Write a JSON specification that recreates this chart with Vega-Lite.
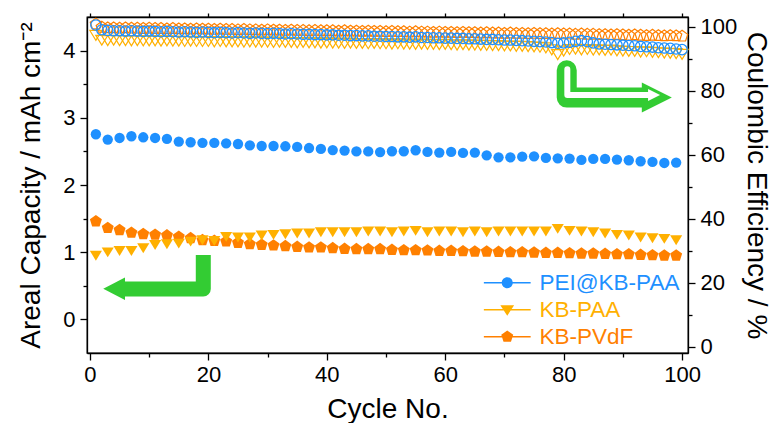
{
"$schema": "https://vega.github.io/schema/vega-lite/v6.json",
"width": 601, "height": 336,
"autosize": {"type": "none"},
"padding": {"left": 87, "top": 17, "right": 89, "bottom": 70},
"background": "white",
"config": {
  "font": "Liberation Sans",
  "view": {"stroke": "black", "strokeWidth": 1.3},
  "axis": {"domainColor": "black", "domainWidth": 1.3, "tickColor": "black", "tickWidth": 1.3, "labelColor": "black", "titleColor": "black", "labelFont": "Liberation Sans", "titleFont": "Liberation Sans", "labelFontSize": 22, "titleFontSize": 28, "titleFontWeight": "normal", "grid": false, "labelOverlap": false, "labelFlush": false, "labelBound": false}
},
"datasets": {
"cap": [
{"series":"PEI@KB-PAA","cycle":1,"cap":2.755},{"series":"PEI@KB-PAA","cycle":3,"cap":2.676},{"series":"PEI@KB-PAA","cycle":5,"cap":2.70},{"series":"PEI@KB-PAA","cycle":7,"cap":2.725},{"series":"PEI@KB-PAA","cycle":9,"cap":2.71},{"series":"PEI@KB-PAA","cycle":11,"cap":2.70},{"series":"PEI@KB-PAA","cycle":13,"cap":2.687},{"series":"PEI@KB-PAA","cycle":15,"cap":2.646},{"series":"PEI@KB-PAA","cycle":17,"cap":2.636},{"series":"PEI@KB-PAA","cycle":19,"cap":2.627},
{"series":"PEI@KB-PAA","cycle":21,"cap":2.627},{"series":"PEI@KB-PAA","cycle":23,"cap":2.62},{"series":"PEI@KB-PAA","cycle":25,"cap":2.61},{"series":"PEI@KB-PAA","cycle":27,"cap":2.59},{"series":"PEI@KB-PAA","cycle":29,"cap":2.58},{"series":"PEI@KB-PAA","cycle":31,"cap":2.58},{"series":"PEI@KB-PAA","cycle":33,"cap":2.576},{"series":"PEI@KB-PAA","cycle":35,"cap":2.567},{"series":"PEI@KB-PAA","cycle":37,"cap":2.55},{"series":"PEI@KB-PAA","cycle":39,"cap":2.537},
{"series":"PEI@KB-PAA","cycle":41,"cap":2.52},{"series":"PEI@KB-PAA","cycle":43,"cap":2.512},{"series":"PEI@KB-PAA","cycle":45,"cap":2.50},{"series":"PEI@KB-PAA","cycle":47,"cap":2.50},{"series":"PEI@KB-PAA","cycle":49,"cap":2.49},{"series":"PEI@KB-PAA","cycle":51,"cap":2.502},{"series":"PEI@KB-PAA","cycle":53,"cap":2.502},{"series":"PEI@KB-PAA","cycle":55,"cap":2.517},{"series":"PEI@KB-PAA","cycle":57,"cap":2.492},{"series":"PEI@KB-PAA","cycle":59,"cap":2.482},
{"series":"PEI@KB-PAA","cycle":61,"cap":2.492},{"series":"PEI@KB-PAA","cycle":63,"cap":2.477},{"series":"PEI@KB-PAA","cycle":65,"cap":2.482},{"series":"PEI@KB-PAA","cycle":67,"cap":2.442},{"series":"PEI@KB-PAA","cycle":69,"cap":2.412},{"series":"PEI@KB-PAA","cycle":71,"cap":2.412},{"series":"PEI@KB-PAA","cycle":73,"cap":2.422},{"series":"PEI@KB-PAA","cycle":75,"cap":2.427},{"series":"PEI@KB-PAA","cycle":77,"cap":2.403},{"series":"PEI@KB-PAA","cycle":79,"cap":2.397},
{"series":"PEI@KB-PAA","cycle":81,"cap":2.393},{"series":"PEI@KB-PAA","cycle":83,"cap":2.373},{"series":"PEI@KB-PAA","cycle":85,"cap":2.388},{"series":"PEI@KB-PAA","cycle":87,"cap":2.388},{"series":"PEI@KB-PAA","cycle":89,"cap":2.378},{"series":"PEI@KB-PAA","cycle":91,"cap":2.368},{"series":"PEI@KB-PAA","cycle":93,"cap":2.353},{"series":"PEI@KB-PAA","cycle":95,"cap":2.343},{"series":"PEI@KB-PAA","cycle":97,"cap":2.328},{"series":"PEI@KB-PAA","cycle":99,"cap":2.333},
{"series":"KB-PAA","cycle":1,"cap":0.96},{"series":"KB-PAA","cycle":3,"cap":1.01},{"series":"KB-PAA","cycle":5,"cap":1.03},{"series":"KB-PAA","cycle":7,"cap":1.03},{"series":"KB-PAA","cycle":9,"cap":1.07},{"series":"KB-PAA","cycle":11,"cap":1.12},{"series":"KB-PAA","cycle":13,"cap":1.13},{"series":"KB-PAA","cycle":15,"cap":1.14},{"series":"KB-PAA","cycle":17,"cap":1.17},{"series":"KB-PAA","cycle":19,"cap":1.19},
{"series":"KB-PAA","cycle":21,"cap":1.18},{"series":"KB-PAA","cycle":23,"cap":1.24},{"series":"KB-PAA","cycle":25,"cap":1.23},{"series":"KB-PAA","cycle":27,"cap":1.23},{"series":"KB-PAA","cycle":29,"cap":1.26},{"series":"KB-PAA","cycle":31,"cap":1.27},{"series":"KB-PAA","cycle":33,"cap":1.28},{"series":"KB-PAA","cycle":35,"cap":1.29},{"series":"KB-PAA","cycle":37,"cap":1.29},{"series":"KB-PAA","cycle":39,"cap":1.31},
{"series":"KB-PAA","cycle":41,"cap":1.31},{"series":"KB-PAA","cycle":43,"cap":1.31},{"series":"KB-PAA","cycle":45,"cap":1.31},{"series":"KB-PAA","cycle":47,"cap":1.32},{"series":"KB-PAA","cycle":49,"cap":1.32},{"series":"KB-PAA","cycle":51,"cap":1.31},{"series":"KB-PAA","cycle":53,"cap":1.32},{"series":"KB-PAA","cycle":55,"cap":1.33},{"series":"KB-PAA","cycle":57,"cap":1.31},{"series":"KB-PAA","cycle":59,"cap":1.32},
{"series":"KB-PAA","cycle":61,"cap":1.32},{"series":"KB-PAA","cycle":63,"cap":1.31},{"series":"KB-PAA","cycle":65,"cap":1.32},{"series":"KB-PAA","cycle":67,"cap":1.31},{"series":"KB-PAA","cycle":69,"cap":1.32},{"series":"KB-PAA","cycle":71,"cap":1.32},{"series":"KB-PAA","cycle":73,"cap":1.32},{"series":"KB-PAA","cycle":75,"cap":1.32},{"series":"KB-PAA","cycle":77,"cap":1.32},{"series":"KB-PAA","cycle":79,"cap":1.36},
{"series":"KB-PAA","cycle":81,"cap":1.33},{"series":"KB-PAA","cycle":83,"cap":1.32},{"series":"KB-PAA","cycle":85,"cap":1.31},{"series":"KB-PAA","cycle":87,"cap":1.29},{"series":"KB-PAA","cycle":89,"cap":1.27},{"series":"KB-PAA","cycle":91,"cap":1.26},{"series":"KB-PAA","cycle":93,"cap":1.23},{"series":"KB-PAA","cycle":95,"cap":1.22},{"series":"KB-PAA","cycle":97,"cap":1.21},{"series":"KB-PAA","cycle":99,"cap":1.19},
{"series":"KB-PVdF","cycle":1,"cap":1.46},{"series":"KB-PVdF","cycle":3,"cap":1.36},{"series":"KB-PVdF","cycle":5,"cap":1.33},{"series":"KB-PVdF","cycle":7,"cap":1.29},{"series":"KB-PVdF","cycle":9,"cap":1.27},{"series":"KB-PVdF","cycle":11,"cap":1.26},{"series":"KB-PVdF","cycle":13,"cap":1.25},{"series":"KB-PVdF","cycle":15,"cap":1.23},{"series":"KB-PVdF","cycle":17,"cap":1.21},{"series":"KB-PVdF","cycle":19,"cap":1.18},
{"series":"KB-PVdF","cycle":21,"cap":1.17},{"series":"KB-PVdF","cycle":23,"cap":1.16},{"series":"KB-PVdF","cycle":25,"cap":1.14},{"series":"KB-PVdF","cycle":27,"cap":1.12},{"series":"KB-PVdF","cycle":29,"cap":1.11},{"series":"KB-PVdF","cycle":31,"cap":1.10},{"series":"KB-PVdF","cycle":33,"cap":1.09},{"series":"KB-PVdF","cycle":35,"cap":1.08},{"series":"KB-PVdF","cycle":37,"cap":1.07},{"series":"KB-PVdF","cycle":39,"cap":1.07},
{"series":"KB-PVdF","cycle":41,"cap":1.06},{"series":"KB-PVdF","cycle":43,"cap":1.05},{"series":"KB-PVdF","cycle":45,"cap":1.045},{"series":"KB-PVdF","cycle":47,"cap":1.045},{"series":"KB-PVdF","cycle":49,"cap":1.045},{"series":"KB-PVdF","cycle":51,"cap":1.035},{"series":"KB-PVdF","cycle":53,"cap":1.03},{"series":"KB-PVdF","cycle":55,"cap":1.03},{"series":"KB-PVdF","cycle":57,"cap":1.025},{"series":"KB-PVdF","cycle":59,"cap":1.02},
{"series":"KB-PVdF","cycle":61,"cap":1.02},{"series":"KB-PVdF","cycle":63,"cap":1.015},{"series":"KB-PVdF","cycle":65,"cap":1.01},{"series":"KB-PVdF","cycle":67,"cap":1.01},{"series":"KB-PVdF","cycle":69,"cap":1.005},{"series":"KB-PVdF","cycle":71,"cap":1.0},{"series":"KB-PVdF","cycle":73,"cap":1.0},{"series":"KB-PVdF","cycle":75,"cap":0.995},{"series":"KB-PVdF","cycle":77,"cap":0.99},{"series":"KB-PVdF","cycle":79,"cap":0.99},
{"series":"KB-PVdF","cycle":81,"cap":0.985},{"series":"KB-PVdF","cycle":83,"cap":0.98},{"series":"KB-PVdF","cycle":85,"cap":0.98},{"series":"KB-PVdF","cycle":87,"cap":0.975},{"series":"KB-PVdF","cycle":89,"cap":0.97},{"series":"KB-PVdF","cycle":91,"cap":0.97},{"series":"KB-PVdF","cycle":93,"cap":0.96},{"series":"KB-PVdF","cycle":95,"cap":0.955},{"series":"KB-PVdF","cycle":97,"cap":0.95},{"series":"KB-PVdF","cycle":99,"cap":0.95}
],
"ce": [
{"series":"PEI@KB-PAA","cycle":1,"ce":100.5},{"series":"PEI@KB-PAA","cycle":2,"ce":99.0},{"series":"PEI@KB-PAA","cycle":3,"ce":98.8},{"series":"PEI@KB-PAA","cycle":4,"ce":98.7},{"series":"PEI@KB-PAA","cycle":5,"ce":98.7},{"series":"PEI@KB-PAA","cycle":6,"ce":98.6},{"series":"PEI@KB-PAA","cycle":7,"ce":98.7},{"series":"PEI@KB-PAA","cycle":8,"ce":98.6},{"series":"PEI@KB-PAA","cycle":9,"ce":98.5},{"series":"PEI@KB-PAA","cycle":10,"ce":98.6},
{"series":"PEI@KB-PAA","cycle":11,"ce":98.5},{"series":"PEI@KB-PAA","cycle":12,"ce":98.4},{"series":"PEI@KB-PAA","cycle":13,"ce":98.5},{"series":"PEI@KB-PAA","cycle":14,"ce":98.4},{"series":"PEI@KB-PAA","cycle":15,"ce":98.3},{"series":"PEI@KB-PAA","cycle":16,"ce":98.4},{"series":"PEI@KB-PAA","cycle":17,"ce":98.3},{"series":"PEI@KB-PAA","cycle":18,"ce":98.2},{"series":"PEI@KB-PAA","cycle":19,"ce":98.3},{"series":"PEI@KB-PAA","cycle":20,"ce":98.2},
{"series":"PEI@KB-PAA","cycle":21,"ce":98.1},{"series":"PEI@KB-PAA","cycle":22,"ce":98.2},{"series":"PEI@KB-PAA","cycle":23,"ce":98.1},{"series":"PEI@KB-PAA","cycle":24,"ce":98.0},{"series":"PEI@KB-PAA","cycle":25,"ce":98.1},{"series":"PEI@KB-PAA","cycle":26,"ce":98.0},{"series":"PEI@KB-PAA","cycle":27,"ce":97.9},{"series":"PEI@KB-PAA","cycle":28,"ce":98.0},{"series":"PEI@KB-PAA","cycle":29,"ce":97.9},{"series":"PEI@KB-PAA","cycle":30,"ce":97.8},
{"series":"PEI@KB-PAA","cycle":31,"ce":97.9},{"series":"PEI@KB-PAA","cycle":32,"ce":97.8},{"series":"PEI@KB-PAA","cycle":33,"ce":97.7},{"series":"PEI@KB-PAA","cycle":34,"ce":97.8},{"series":"PEI@KB-PAA","cycle":35,"ce":97.7},{"series":"PEI@KB-PAA","cycle":36,"ce":97.6},{"series":"PEI@KB-PAA","cycle":37,"ce":97.6},{"series":"PEI@KB-PAA","cycle":38,"ce":97.5},{"series":"PEI@KB-PAA","cycle":39,"ce":97.5},{"series":"PEI@KB-PAA","cycle":40,"ce":97.4},
{"series":"PEI@KB-PAA","cycle":41,"ce":97.4},{"series":"PEI@KB-PAA","cycle":42,"ce":97.3},{"series":"PEI@KB-PAA","cycle":43,"ce":97.3},{"series":"PEI@KB-PAA","cycle":44,"ce":97.2},{"series":"PEI@KB-PAA","cycle":45,"ce":97.2},{"series":"PEI@KB-PAA","cycle":46,"ce":97.1},{"series":"PEI@KB-PAA","cycle":47,"ce":97.1},{"series":"PEI@KB-PAA","cycle":48,"ce":97.0},{"series":"PEI@KB-PAA","cycle":49,"ce":97.0},{"series":"PEI@KB-PAA","cycle":50,"ce":96.9},
{"series":"PEI@KB-PAA","cycle":51,"ce":96.9},{"series":"PEI@KB-PAA","cycle":52,"ce":96.8},{"series":"PEI@KB-PAA","cycle":53,"ce":96.8},{"series":"PEI@KB-PAA","cycle":54,"ce":96.7},{"series":"PEI@KB-PAA","cycle":55,"ce":96.8},{"series":"PEI@KB-PAA","cycle":56,"ce":96.6},{"series":"PEI@KB-PAA","cycle":57,"ce":96.6},{"series":"PEI@KB-PAA","cycle":58,"ce":96.5},{"series":"PEI@KB-PAA","cycle":59,"ce":96.5},{"series":"PEI@KB-PAA","cycle":60,"ce":96.4},
{"series":"PEI@KB-PAA","cycle":61,"ce":96.4},{"series":"PEI@KB-PAA","cycle":62,"ce":96.3},{"series":"PEI@KB-PAA","cycle":63,"ce":96.3},{"series":"PEI@KB-PAA","cycle":64,"ce":96.2},{"series":"PEI@KB-PAA","cycle":65,"ce":96.2},{"series":"PEI@KB-PAA","cycle":66,"ce":96.1},{"series":"PEI@KB-PAA","cycle":67,"ce":96.0},{"series":"PEI@KB-PAA","cycle":68,"ce":96.0},{"series":"PEI@KB-PAA","cycle":69,"ce":95.9},{"series":"PEI@KB-PAA","cycle":70,"ce":95.8},
{"series":"PEI@KB-PAA","cycle":71,"ce":95.8},{"series":"PEI@KB-PAA","cycle":72,"ce":95.7},{"series":"PEI@KB-PAA","cycle":73,"ce":95.6},{"series":"PEI@KB-PAA","cycle":74,"ce":95.5},{"series":"PEI@KB-PAA","cycle":75,"ce":95.4},{"series":"PEI@KB-PAA","cycle":76,"ce":95.3},{"series":"PEI@KB-PAA","cycle":77,"ce":95.2},{"series":"PEI@KB-PAA","cycle":78,"ce":95.0},{"series":"PEI@KB-PAA","cycle":79,"ce":94.8},{"series":"PEI@KB-PAA","cycle":80,"ce":94.9},
{"series":"PEI@KB-PAA","cycle":81,"ce":95.1},{"series":"PEI@KB-PAA","cycle":82,"ce":95.4},{"series":"PEI@KB-PAA","cycle":83,"ce":95.6},{"series":"PEI@KB-PAA","cycle":84,"ce":95.3},{"series":"PEI@KB-PAA","cycle":85,"ce":94.9},{"series":"PEI@KB-PAA","cycle":86,"ce":94.6},{"series":"PEI@KB-PAA","cycle":87,"ce":94.5},{"series":"PEI@KB-PAA","cycle":88,"ce":94.4},{"series":"PEI@KB-PAA","cycle":89,"ce":94.3},{"series":"PEI@KB-PAA","cycle":90,"ce":94.2},
{"series":"PEI@KB-PAA","cycle":91,"ce":94.1},{"series":"PEI@KB-PAA","cycle":92,"ce":94.0},{"series":"PEI@KB-PAA","cycle":93,"ce":93.8},{"series":"PEI@KB-PAA","cycle":94,"ce":93.7},{"series":"PEI@KB-PAA","cycle":95,"ce":93.6},{"series":"PEI@KB-PAA","cycle":96,"ce":93.4},{"series":"PEI@KB-PAA","cycle":97,"ce":93.3},{"series":"PEI@KB-PAA","cycle":98,"ce":93.2},{"series":"PEI@KB-PAA","cycle":99,"ce":93.0},{"series":"PEI@KB-PAA","cycle":100,"ce":92.8},
{"series":"KB-PAA","cycle":1,"ce":97.5},{"series":"KB-PAA","cycle":2,"ce":96.0},{"series":"KB-PAA","cycle":3,"ce":95.9},{"series":"KB-PAA","cycle":4,"ce":96.0},{"series":"KB-PAA","cycle":5,"ce":95.9},{"series":"KB-PAA","cycle":6,"ce":95.9},{"series":"KB-PAA","cycle":7,"ce":95.8},{"series":"KB-PAA","cycle":8,"ce":95.9},{"series":"KB-PAA","cycle":9,"ce":95.8},{"series":"KB-PAA","cycle":10,"ce":95.8},
{"series":"KB-PAA","cycle":11,"ce":95.8},{"series":"KB-PAA","cycle":12,"ce":95.7},{"series":"KB-PAA","cycle":13,"ce":95.8},{"series":"KB-PAA","cycle":14,"ce":95.7},{"series":"KB-PAA","cycle":15,"ce":95.7},{"series":"KB-PAA","cycle":16,"ce":95.6},{"series":"KB-PAA","cycle":17,"ce":95.7},{"series":"KB-PAA","cycle":18,"ce":95.6},{"series":"KB-PAA","cycle":19,"ce":95.6},{"series":"KB-PAA","cycle":20,"ce":95.6},
{"series":"KB-PAA","cycle":21,"ce":95.5},{"series":"KB-PAA","cycle":22,"ce":95.6},{"series":"KB-PAA","cycle":23,"ce":95.5},{"series":"KB-PAA","cycle":24,"ce":95.5},{"series":"KB-PAA","cycle":25,"ce":95.5},{"series":"KB-PAA","cycle":26,"ce":95.4},{"series":"KB-PAA","cycle":27,"ce":95.5},{"series":"KB-PAA","cycle":28,"ce":95.4},{"series":"KB-PAA","cycle":29,"ce":95.4},{"series":"KB-PAA","cycle":30,"ce":95.4},
{"series":"KB-PAA","cycle":31,"ce":95.3},{"series":"KB-PAA","cycle":32,"ce":95.4},{"series":"KB-PAA","cycle":33,"ce":95.3},{"series":"KB-PAA","cycle":34,"ce":95.3},{"series":"KB-PAA","cycle":35,"ce":95.2},{"series":"KB-PAA","cycle":36,"ce":95.3},{"series":"KB-PAA","cycle":37,"ce":95.2},{"series":"KB-PAA","cycle":38,"ce":95.2},{"series":"KB-PAA","cycle":39,"ce":95.1},{"series":"KB-PAA","cycle":40,"ce":95.2},
{"series":"KB-PAA","cycle":41,"ce":95.1},{"series":"KB-PAA","cycle":42,"ce":95.1},{"series":"KB-PAA","cycle":43,"ce":95.0},{"series":"KB-PAA","cycle":44,"ce":95.1},{"series":"KB-PAA","cycle":45,"ce":95.0},{"series":"KB-PAA","cycle":46,"ce":95.0},{"series":"KB-PAA","cycle":47,"ce":94.9},{"series":"KB-PAA","cycle":48,"ce":95.0},{"series":"KB-PAA","cycle":49,"ce":94.9},{"series":"KB-PAA","cycle":50,"ce":94.9},
{"series":"KB-PAA","cycle":51,"ce":94.8},{"series":"KB-PAA","cycle":52,"ce":94.9},{"series":"KB-PAA","cycle":53,"ce":94.8},{"series":"KB-PAA","cycle":54,"ce":94.8},{"series":"KB-PAA","cycle":55,"ce":94.7},{"series":"KB-PAA","cycle":56,"ce":94.8},{"series":"KB-PAA","cycle":57,"ce":94.7},{"series":"KB-PAA","cycle":58,"ce":94.7},{"series":"KB-PAA","cycle":59,"ce":94.6},{"series":"KB-PAA","cycle":60,"ce":94.7},
{"series":"KB-PAA","cycle":61,"ce":94.6},{"series":"KB-PAA","cycle":62,"ce":94.5},{"series":"KB-PAA","cycle":63,"ce":94.6},{"series":"KB-PAA","cycle":64,"ce":94.5},{"series":"KB-PAA","cycle":65,"ce":94.5},{"series":"KB-PAA","cycle":66,"ce":94.4},{"series":"KB-PAA","cycle":67,"ce":94.4},{"series":"KB-PAA","cycle":68,"ce":94.3},{"series":"KB-PAA","cycle":69,"ce":94.3},{"series":"KB-PAA","cycle":70,"ce":94.2},
{"series":"KB-PAA","cycle":71,"ce":94.2},{"series":"KB-PAA","cycle":72,"ce":94.1},{"series":"KB-PAA","cycle":73,"ce":94.1},{"series":"KB-PAA","cycle":74,"ce":94.0},{"series":"KB-PAA","cycle":75,"ce":93.9},{"series":"KB-PAA","cycle":76,"ce":93.8},{"series":"KB-PAA","cycle":77,"ce":93.6},{"series":"KB-PAA","cycle":78,"ce":93.0},{"series":"KB-PAA","cycle":79,"ce":91.5},{"series":"KB-PAA","cycle":80,"ce":92.6},
{"series":"KB-PAA","cycle":81,"ce":93.1},{"series":"KB-PAA","cycle":82,"ce":93.2},{"series":"KB-PAA","cycle":83,"ce":93.0},{"series":"KB-PAA","cycle":84,"ce":93.1},{"series":"KB-PAA","cycle":85,"ce":92.9},{"series":"KB-PAA","cycle":86,"ce":93.0},{"series":"KB-PAA","cycle":87,"ce":92.8},{"series":"KB-PAA","cycle":88,"ce":92.9},{"series":"KB-PAA","cycle":89,"ce":92.7},{"series":"KB-PAA","cycle":90,"ce":92.6},
{"series":"KB-PAA","cycle":91,"ce":92.5},{"series":"KB-PAA","cycle":92,"ce":92.5},{"series":"KB-PAA","cycle":93,"ce":92.3},{"series":"KB-PAA","cycle":94,"ce":92.4},{"series":"KB-PAA","cycle":95,"ce":92.2},{"series":"KB-PAA","cycle":96,"ce":92.1},{"series":"KB-PAA","cycle":97,"ce":92.0},{"series":"KB-PAA","cycle":98,"ce":91.9},{"series":"KB-PAA","cycle":99,"ce":91.8},{"series":"KB-PAA","cycle":100,"ce":91.6},
{"series":"KB-PVdF","cycle":1,"ce":100.8},{"series":"KB-PVdF","cycle":2,"ce":99.8},{"series":"KB-PVdF","cycle":3,"ce":99.6},{"series":"KB-PVdF","cycle":4,"ce":99.6},{"series":"KB-PVdF","cycle":5,"ce":99.5},{"series":"KB-PVdF","cycle":6,"ce":99.6},{"series":"KB-PVdF","cycle":7,"ce":99.5},{"series":"KB-PVdF","cycle":8,"ce":99.5},{"series":"KB-PVdF","cycle":9,"ce":99.4},{"series":"KB-PVdF","cycle":10,"ce":99.5},
{"series":"KB-PVdF","cycle":11,"ce":99.4},{"series":"KB-PVdF","cycle":12,"ce":99.4},{"series":"KB-PVdF","cycle":13,"ce":99.3},{"series":"KB-PVdF","cycle":14,"ce":99.4},{"series":"KB-PVdF","cycle":15,"ce":99.3},{"series":"KB-PVdF","cycle":16,"ce":99.3},{"series":"KB-PVdF","cycle":17,"ce":99.2},{"series":"KB-PVdF","cycle":18,"ce":99.3},{"series":"KB-PVdF","cycle":19,"ce":99.2},{"series":"KB-PVdF","cycle":20,"ce":99.2},
{"series":"KB-PVdF","cycle":21,"ce":99.1},{"series":"KB-PVdF","cycle":22,"ce":99.2},{"series":"KB-PVdF","cycle":23,"ce":99.1},{"series":"KB-PVdF","cycle":24,"ce":99.1},{"series":"KB-PVdF","cycle":25,"ce":99.0},{"series":"KB-PVdF","cycle":26,"ce":99.1},{"series":"KB-PVdF","cycle":27,"ce":99.0},{"series":"KB-PVdF","cycle":28,"ce":99.0},{"series":"KB-PVdF","cycle":29,"ce":98.9},{"series":"KB-PVdF","cycle":30,"ce":99.0},
{"series":"KB-PVdF","cycle":31,"ce":98.9},{"series":"KB-PVdF","cycle":32,"ce":98.9},{"series":"KB-PVdF","cycle":33,"ce":98.8},{"series":"KB-PVdF","cycle":34,"ce":98.9},{"series":"KB-PVdF","cycle":35,"ce":98.8},{"series":"KB-PVdF","cycle":36,"ce":98.8},{"series":"KB-PVdF","cycle":37,"ce":98.7},{"series":"KB-PVdF","cycle":38,"ce":98.8},{"series":"KB-PVdF","cycle":39,"ce":98.7},{"series":"KB-PVdF","cycle":40,"ce":98.7},
{"series":"KB-PVdF","cycle":41,"ce":98.7},{"series":"KB-PVdF","cycle":42,"ce":98.6},{"series":"KB-PVdF","cycle":43,"ce":98.7},{"series":"KB-PVdF","cycle":44,"ce":98.6},{"series":"KB-PVdF","cycle":45,"ce":98.6},{"series":"KB-PVdF","cycle":46,"ce":98.5},{"series":"KB-PVdF","cycle":47,"ce":98.6},{"series":"KB-PVdF","cycle":48,"ce":98.5},{"series":"KB-PVdF","cycle":49,"ce":98.5},{"series":"KB-PVdF","cycle":50,"ce":98.4},
{"series":"KB-PVdF","cycle":51,"ce":98.5},{"series":"KB-PVdF","cycle":52,"ce":98.4},{"series":"KB-PVdF","cycle":53,"ce":98.4},{"series":"KB-PVdF","cycle":54,"ce":98.3},{"series":"KB-PVdF","cycle":55,"ce":98.4},{"series":"KB-PVdF","cycle":56,"ce":98.3},{"series":"KB-PVdF","cycle":57,"ce":98.3},{"series":"KB-PVdF","cycle":58,"ce":98.2},{"series":"KB-PVdF","cycle":59,"ce":98.3},{"series":"KB-PVdF","cycle":60,"ce":98.2},
{"series":"KB-PVdF","cycle":61,"ce":98.2},{"series":"KB-PVdF","cycle":62,"ce":98.1},{"series":"KB-PVdF","cycle":63,"ce":98.2},{"series":"KB-PVdF","cycle":64,"ce":98.1},{"series":"KB-PVdF","cycle":65,"ce":98.1},{"series":"KB-PVdF","cycle":66,"ce":98.0},{"series":"KB-PVdF","cycle":67,"ce":98.1},{"series":"KB-PVdF","cycle":68,"ce":98.0},{"series":"KB-PVdF","cycle":69,"ce":98.0},{"series":"KB-PVdF","cycle":70,"ce":97.9},
{"series":"KB-PVdF","cycle":71,"ce":98.0},{"series":"KB-PVdF","cycle":72,"ce":97.9},{"series":"KB-PVdF","cycle":73,"ce":97.9},{"series":"KB-PVdF","cycle":74,"ce":97.8},{"series":"KB-PVdF","cycle":75,"ce":97.9},{"series":"KB-PVdF","cycle":76,"ce":97.8},{"series":"KB-PVdF","cycle":77,"ce":97.8},{"series":"KB-PVdF","cycle":78,"ce":97.7},{"series":"KB-PVdF","cycle":79,"ce":97.8},{"series":"KB-PVdF","cycle":80,"ce":97.7},
{"series":"KB-PVdF","cycle":81,"ce":97.7},{"series":"KB-PVdF","cycle":82,"ce":97.6},{"series":"KB-PVdF","cycle":83,"ce":97.7},{"series":"KB-PVdF","cycle":84,"ce":97.6},{"series":"KB-PVdF","cycle":85,"ce":97.6},{"series":"KB-PVdF","cycle":86,"ce":97.5},{"series":"KB-PVdF","cycle":87,"ce":97.5},{"series":"KB-PVdF","cycle":88,"ce":97.4},{"series":"KB-PVdF","cycle":89,"ce":97.5},{"series":"KB-PVdF","cycle":90,"ce":97.4},
{"series":"KB-PVdF","cycle":91,"ce":97.3},{"series":"KB-PVdF","cycle":92,"ce":97.4},{"series":"KB-PVdF","cycle":93,"ce":97.3},{"series":"KB-PVdF","cycle":94,"ce":97.2},{"series":"KB-PVdF","cycle":95,"ce":97.3},{"series":"KB-PVdF","cycle":96,"ce":97.2},{"series":"KB-PVdF","cycle":97,"ce":97.1},{"series":"KB-PVdF","cycle":98,"ce":97.2},{"series":"KB-PVdF","cycle":99,"ce":97.1},{"series":"KB-PVdF","cycle":100,"ce":97.0}
],
"arrowL": [{"i":1,"cycle":19.14,"cap":0.96},{"i":2,"cycle":19.14,"cap":0.452},{"i":3,"cycle":5.5,"cap":0.452}],
"headL": [{"cycle":4.08,"cap":0.457}],
"arrowR": [{"i":1,"cycle":80.52,"ce":86.34},{"i":2,"cycle":80.52,"ce":77.81},{"i":3,"cycle":93.75,"ce":77.81}],
"headR": [{"cycle":95.73,"ce":77.81}],
"arrowRi": [{"i":1,"cycle":80.62,"ce":86.66},{"i":2,"cycle":80.62,"ce":78.63},{"i":3,"cycle":94.3,"ce":78.63}],
"headRi": [{"cycle":95.27,"ce":78.63}]
},
"layer": [
{
  "encoding": {
    "x": {"field": "cycle", "type": "quantitative", "scale": {"domain": [-0.5, 101], "nice": false, "zero": false},
      "axis": {"orient": "bottom", "values": [0,10,20,30,40,50,60,70,80,90,100], "labelExpr": "datum.value % 20 === 0 ? datum.label : ''", "tickSize": {"condition": {"test": "datum.value % 20 === 0", "value": 7}, "value": 4}, "labelPadding": 4, "title": "Cycle No.", "titlePadding": 10}},
    "y": {"field": "cap", "type": "quantitative", "scale": {"domain": [-0.5, 4.5], "nice": false, "zero": false},
      "axis": {"orient": "left", "values": [0,0.5,1,1.5,2,2.5,3,3.5,4], "labelExpr": "datum.value % 1 === 0 ? format(datum.value, 'd') : ''", "tickSize": {"condition": {"test": "datum.value % 1 === 0", "value": 7}, "value": 4}, "labelPadding": 5, "title": "Areal Capacity / mAh cm⁻²", "titlePadding": 17}}
  },
  "layer": [
    {"data": {"name": "cap"}, "transform": [{"filter": "datum.series === 'KB-PVdF'"}],
     "mark": {"type": "point", "filled": true, "opacity": 1, "color": "#FF8000", "size": 159, "strokeWidth": 0, "shape": "M0,-1L0.951,-0.309L0.588,0.809L-0.588,0.809L-0.951,-0.309Z"}},
    {"data": {"name": "cap"}, "transform": [{"filter": "datum.series === 'KB-PAA'"}],
     "mark": {"type": "point", "filled": true, "opacity": 1, "color": "#FFB000", "size": 121, "strokeWidth": 0, "shape": "M-1.1,-0.75L1.1,-0.75L0,1.05Z"}},
    {"data": {"name": "cap"}, "transform": [{"filter": "datum.series === 'PEI@KB-PAA'"}],
     "mark": {"type": "point", "filled": true, "opacity": 1, "color": "#1E90FF", "size": 107, "strokeWidth": 0, "shape": "circle"}},
    {"data": {"name": "arrowL"},
     "mark": {"type": "line", "color": "#33CC33", "strokeWidth": 15, "strokeJoin": "round", "strokeCap": "butt"},
     "encoding": {"order": {"field": "i", "type": "quantitative"}}},
    {"data": {"name": "headL"},
     "mark": {"type": "point", "filled": true, "opacity": 1, "color": "#33CC33", "size": 471, "strokeWidth": 0, "shape": "M-1,0L1,-1.04L1,1.04Z"}},
    {"data": {"name": "cap"},
     "mark": {"type": "point", "filled": true, "opacity": 0},
     "encoding": {
       "color": {"field": "series", "type": "nominal",
         "scale": {"domain": ["PEI@KB-PAA", "KB-PAA", "KB-PVdF"], "range": ["#1E90FF", "#FFB000", "#FF8000"]},
         "legend": {"title": null, "orient": "none", "legendX": 409, "legendY": 254.5, "labelFont": "Liberation Sans", "labelFontSize": 22.5, "labelOffset": 21, "symbolSize": 144, "symbolOpacity": 1, "symbolStrokeWidth": 0, "rowPadding": 4, "padding": 0, "labelLimit": 300,
           "encode": {"labels": {"update": {"fill": {"scale": "color", "field": "value"}}}}}},
       "shape": {"field": "series", "type": "nominal",
         "scale": {"domain": ["PEI@KB-PAA", "KB-PAA", "KB-PVdF"], "range": [
           "M-3.9,-0.12H3.9V0.12H-3.9Z M0.92,0A0.92,0.92,0,1,1,-0.92,0A0.92,0.92,0,1,1,0.92,0Z",
           "M-3.9,-0.12H3.9V0.12H-3.9Z M-1.15,-0.75L1.15,-0.75L0,1.0Z",
           "M-3.9,-0.12H3.9V0.12H-3.9Z M0,-1.05L1.0,-0.32L0.62,0.85L-0.62,0.85L-1.0,-0.32Z"]},
         "legend": {"title": null, "orient": "none", "legendX": 409, "legendY": 254.5, "labelFont": "Liberation Sans", "labelFontSize": 22.5, "labelOffset": 21, "symbolSize": 144, "symbolOpacity": 1, "symbolStrokeWidth": 0, "rowPadding": 4, "padding": 0, "labelLimit": 300,
           "encode": {"labels": {"update": {"fill": {"scale": "color", "field": "value"}}}}}}
     }}
  ]
},
{
  "encoding": {
    "x": {"field": "cycle", "type": "quantitative", "scale": {"domain": [-0.5, 101], "nice": false, "zero": false},
      "axis": {"orient": "top", "values": [0,10,20,30,40,50,60,70,80,90,100], "labels": false, "tickSize": 4, "title": null}},
    "y": {"field": "ce", "type": "quantitative", "scale": {"domain": [-2, 103], "nice": false, "zero": false},
      "axis": {"orient": "right", "values": [0,10,20,30,40,50,60,70,80,90,100], "labelExpr": "datum.value % 20 === 0 ? datum.label : ''", "tickSize": {"condition": {"test": "datum.value % 20 === 0", "value": 7}, "value": 4}, "labelPadding": 5, "title": "Coulombic Efficiency / %", "titlePadding": 5}}
  },
  "layer": [
    {"data": {"name": "ce"}, "transform": [{"filter": "datum.series === 'KB-PAA'"}],
     "mark": {"type": "point", "filled": false, "color": "#FFB000", "size": 121, "strokeWidth": 1.2, "opacity": 1, "shape": "M-1.1,-0.75L1.1,-0.75L0,1.05Z"}},
    {"data": {"name": "ce"}, "transform": [{"filter": "datum.series === 'KB-PVdF'"}],
     "mark": {"type": "point", "filled": false, "color": "#FF8000", "size": 140, "strokeWidth": 1.2, "opacity": 1, "shape": "M0,-1L0.951,-0.309L0.588,0.809L-0.588,0.809L-0.951,-0.309Z"}},
    {"data": {"name": "ce"}, "transform": [{"filter": "datum.series === 'PEI@KB-PAA'"}],
     "mark": {"type": "point", "filled": false, "color": "#1E90FF", "size": 107, "strokeWidth": 1.3, "opacity": 1, "shape": "circle"}},
    {"data": {"name": "arrowR"},
     "mark": {"type": "line", "color": "#33CC33", "strokeWidth": 20, "strokeJoin": "round", "strokeCap": "round"},
     "encoding": {"order": {"field": "i", "type": "quantitative"}}},
    {"data": {"name": "headR"},
     "mark": {"type": "point", "filled": true, "opacity": 1, "color": "#33CC33", "size": 900, "strokeWidth": 0, "shape": "M1,0L-1,-1L-1,1Z"}},
    {"data": {"name": "arrowRi"},
     "mark": {"type": "line", "color": "white", "strokeWidth": 6, "strokeJoin": "round", "strokeCap": "round"},
     "encoding": {"order": {"field": "i", "type": "quantitative"}}},
    {"data": {"name": "headRi"},
     "mark": {"type": "point", "filled": true, "opacity": 1, "color": "white", "size": 144, "strokeWidth": 0, "shape": "M1,0L-1,-1L-1,1Z"}}
  ]
}
],
"resolve": {"scale": {"y": "independent"}, "axis": {"x": "independent", "y": "independent"}}
}
